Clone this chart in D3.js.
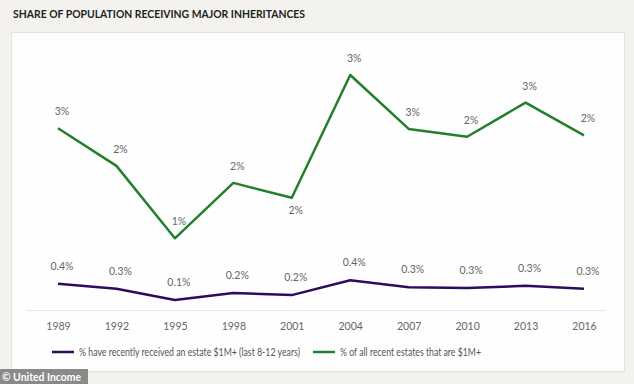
<!DOCTYPE html>
<html>
<head>
<meta charset="utf-8">
<script src="https://cdn.jsdelivr.net/npm/d3@7"></script>
<style>
  body { margin: 0; background: #f3f2ef; }
  svg { display: block; font-family: Lato, "Noto Sans", sans-serif; }
</style>
</head>
<body>
<div id="chart"></div>
<script>
// data
var years = ["1989", "1992", "1995", "1998", "2001", "2004", "2007", "2010", "2013", "2016"];
var received = [0.37, 0.30, 0.14, 0.24, 0.21, 0.42, 0.32, 0.31, 0.34, 0.30];
var estates = [2.56, 2.03, 1.01, 1.79, 1.58, 3.31, 2.55, 2.44, 2.92, 2.46];
var seriesNames = ["% have recently received an estate $1M+ (last 8-12 years)",
                   "% of all recent estates that are $1M+"];

var width = 634, height = 384;

var svg = d3.select("#chart")
  .append("svg")
    .attr("width", width)
    .attr("height", height);

// page background + card
svg.append("rect")
  .attr("width", width).attr("height", height)
  .attr("fill", "#f3f2ef");
svg.append("rect")
  .attr("x", 11.5).attr("y", 32.5)
  .attr("width", 613).attr("height", 339)
  .attr("fill", "#fefefe")
  .attr("stroke", "#e4e3e0");

// title
svg.append("text")
  .attr("x", 13).attr("y", 18)
  .attr("font-size", 11.5)
  .attr("font-weight", "bold")
  .attr("fill", "#222")
  .attr("textLength", 292)
  .attr("lengthAdjust", "spacingAndGlyphs")
  .text("SHARE OF POPULATION RECEIVING MAJOR INHERITANCES");

// scales
var x = d3.scalePoint()
  .domain(years)
  .range([58, 584]);

var y = d3.scaleLinear()
  .domain([0, 4])
  .range([310, 26]);

// X axis
var xAxis = svg.append("g")
  .attr("transform", "translate(0,310)")
  .call(d3.axisBottom(x).tickSize(0).tickPadding(13));
xAxis.select(".domain").remove();
xAxis.selectAll("text")
  .attr("font-family", "Lato, 'Noto Sans', sans-serif")
  .attr("font-size", 10.5)
  .attr("fill", "#666");
svg.append("line")
  .attr("x1", 26).attr("x2", 606)
  .attr("y1", 310.5).attr("y2", 310.5)
  .attr("stroke", "#e8e8e8");

var line = d3.line()
  .x(function (d, i) { return x(years[i]); })
  .y(function (d) { return y(d); });

var purple = "#2e0b5f", green = "#23802a";

svg.append("path")
  .datum(received)
  .attr("d", line)
  .attr("fill", "none")
  .attr("stroke", purple)
  .attr("stroke-width", 2.5)
  .attr("stroke-linejoin", "round");

svg.append("path")
  .datum(estates)
  .attr("d", line)
  .attr("fill", "none")
  .attr("stroke", green)
  .attr("stroke-width", 2.5)
  .attr("stroke-linejoin", "round");

// value labels
var fmtPct = function (v) { return d3.format(".0f")(v) + "%"; };
var fmtSmall = function (v) { return d3.format(".1f")(v) + "%"; };

svg.append("g")
  .selectAll("text")
  .data(estates)
  .enter()
    .append("text")
    .attr("x", function (d, i) { return x(years[i]) + 4; })
    .attr("y", function (d, i) { return years[i] === "2001" ? y(d) + 16 : y(d) - 13; })
    .attr("text-anchor", "middle")
    .attr("font-size", 10.5)
    .attr("fill", "#666")
    .text(fmtPct);

svg.append("g")
  .selectAll("text")
  .data(received)
  .enter()
    .append("text")
    .attr("x", function (d, i) { return x(years[i]) + 4; })
    .attr("y", function (d) { return y(d) - 14; })
    .attr("text-anchor", "middle")
    .attr("font-size", 10.5)
    .attr("fill", "#666")
    .text(fmtSmall);

// legend
var legend = [
  {name: seriesNames[0], color: purple, x: 52, len: 221},
  {name: seriesNames[1], color: green, x: 313, len: 141}
];
legend.forEach(function (l) {
  svg.append("line")
    .attr("x1", l.x).attr("x2", l.x + 22)
    .attr("y1", 352).attr("y2", 352)
    .attr("stroke", l.color)
    .attr("stroke-width", 2.5);
  svg.append("text")
    .attr("x", l.x + 27).attr("y", 355.5)
    .attr("font-size", 10.5)
    .attr("fill", "#555")
    .attr("textLength", l.len)
    .attr("lengthAdjust", "spacingAndGlyphs")
    .text(l.name);
});

// watermark
svg.append("rect")
  .attr("x", 0).attr("y", 369)
  .attr("width", 88).attr("height", 15)
  .attr("fill", "#8a8a8a");
svg.append("text")
  .attr("x", 2).attr("y", 381)
  .attr("font-size", 11)
  .attr("font-weight", "bold")
  .attr("fill", "#fff")
  .attr("textLength", 79)
  .attr("lengthAdjust", "spacingAndGlyphs")
  .text("© United Income");
</script>
</body>
</html>
